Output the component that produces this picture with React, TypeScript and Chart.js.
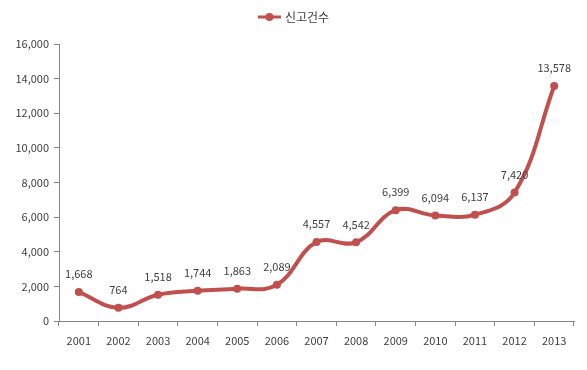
import React, { useEffect, useRef } from "react";
import { Chart, registerables } from "chart.js";

Chart.register(...registerables);

const years = ["2001", "2002", "2003", "2004", "2005", "2006", "2007", "2008", "2009", "2010", "2011", "2012", "2013"];
const reports = [1668, 764, 1518, 1744, 1863, 2089, 4557, 4542, 6399, 6094, 6137, 7420, 13578];
const seriesName = "신고건수";

const FONT = "'Noto Sans CJK KR', 'DejaVu Sans', sans-serif";
const RED = "#C0504D";
const TEXT = "#404040";
const AXIS = "#868686";

const labelPlugin = {
  id: "valueLabels",
  afterDatasetsDraw(chart: any) {
    const ctx = chart.ctx;
    const meta = chart.getDatasetMeta(0);
    ctx.save();
    ctx.font = `11px ${FONT}`;
    ctx.fillStyle = TEXT;
    ctx.textAlign = "center";
    ctx.textBaseline = "middle";
    meta.data.forEach((pt: any, i: number) => {
      const v = reports[i];
      ctx.fillText(v.toLocaleString("en-US"), pt.x, pt.y - 18);
    });
    ctx.restore();
  },
};

const legendPlugin = {
  id: "customLegend",
  afterDraw(chart: any) {
    const ctx = chart.ctx;
    ctx.save();
    ctx.font = `12px ${FONT}`;
    const tw = ctx.measureText(seriesName).width;
    const lineW = 23;
    const total = lineW + 4 + tw;
    const cx = chart.width / 2;
    const x0 = cx - total / 2;
    const y = 17;
    ctx.strokeStyle = RED;
    ctx.lineWidth = 3;
    ctx.beginPath();
    ctx.moveTo(x0, y);
    ctx.lineTo(x0 + lineW, y);
    ctx.stroke();
    ctx.fillStyle = RED;
    ctx.beginPath();
    ctx.arc(x0 + lineW / 2, y, 4, 0, Math.PI * 2);
    ctx.fill();
    ctx.fillStyle = TEXT;
    ctx.textBaseline = "middle";
    ctx.textAlign = "left";
    ctx.fillText(seriesName, x0 + lineW + 4, y);
    ctx.restore();
  },
};

export default function App() {
  const ref = useRef<HTMLCanvasElement>(null);
  useEffect(() => {
    if (!ref.current) return;
    const chart = new Chart(ref.current, {
      type: "line",
      data: {
        labels: years,
        datasets: [
          {
            label: seriesName,
            data: reports,
            borderColor: RED,
            backgroundColor: RED,
            borderWidth: 4,
            pointRadius: 4,
            pointBorderWidth: 0,
            pointBackgroundColor: RED,
            pointBorderColor: RED,
            tension: 0.4,
            cubicInterpolationMode: "default",
          },
        ],
      },
      options: {
        responsive: false,
        animation: false,
        devicePixelRatio: 1,
        layout: { padding: { top: 44, right: 13, left: 0, bottom: 0 } },
        plugins: { legend: { display: false }, tooltip: { enabled: false } },
        scales: {
          x: {
            offset: true,
            grid: { display: true, drawOnChartArea: false, drawTicks: true, tickLength: 5, color: AXIS, offset: true },
            border: { display: true, color: AXIS },
            ticks: { color: TEXT, font: { family: FONT, size: 11 }, padding: 8, maxRotation: 0 },
            afterFit(scale: any) {
              scale.height = 49;
            },
          },
          y: {
            min: 0,
            max: 16000,
            grid: { display: true, drawOnChartArea: false, drawTicks: true, tickLength: 5, color: AXIS },
            border: { display: true, color: AXIS },
            ticks: {
              stepSize: 2000,
              color: TEXT,
              font: { family: FONT, size: 11 },
              padding: 5,
              callback: (v: any) => Number(v).toLocaleString("en-US"),
            },
            afterFit(scale: any) {
              scale.width = 59;
            },
          },
        },
      },
      plugins: [labelPlugin, legendPlugin],
    });
    return () => chart.destroy();
  }, []);
  return (
    <div style={{ position: "fixed", left: 0, top: 0, width: 587, height: 370, background: "#fff" }}>
      <canvas ref={ref} width={587} height={370} style={{ width: 587, height: 370 }} />
    </div>
  );
}
